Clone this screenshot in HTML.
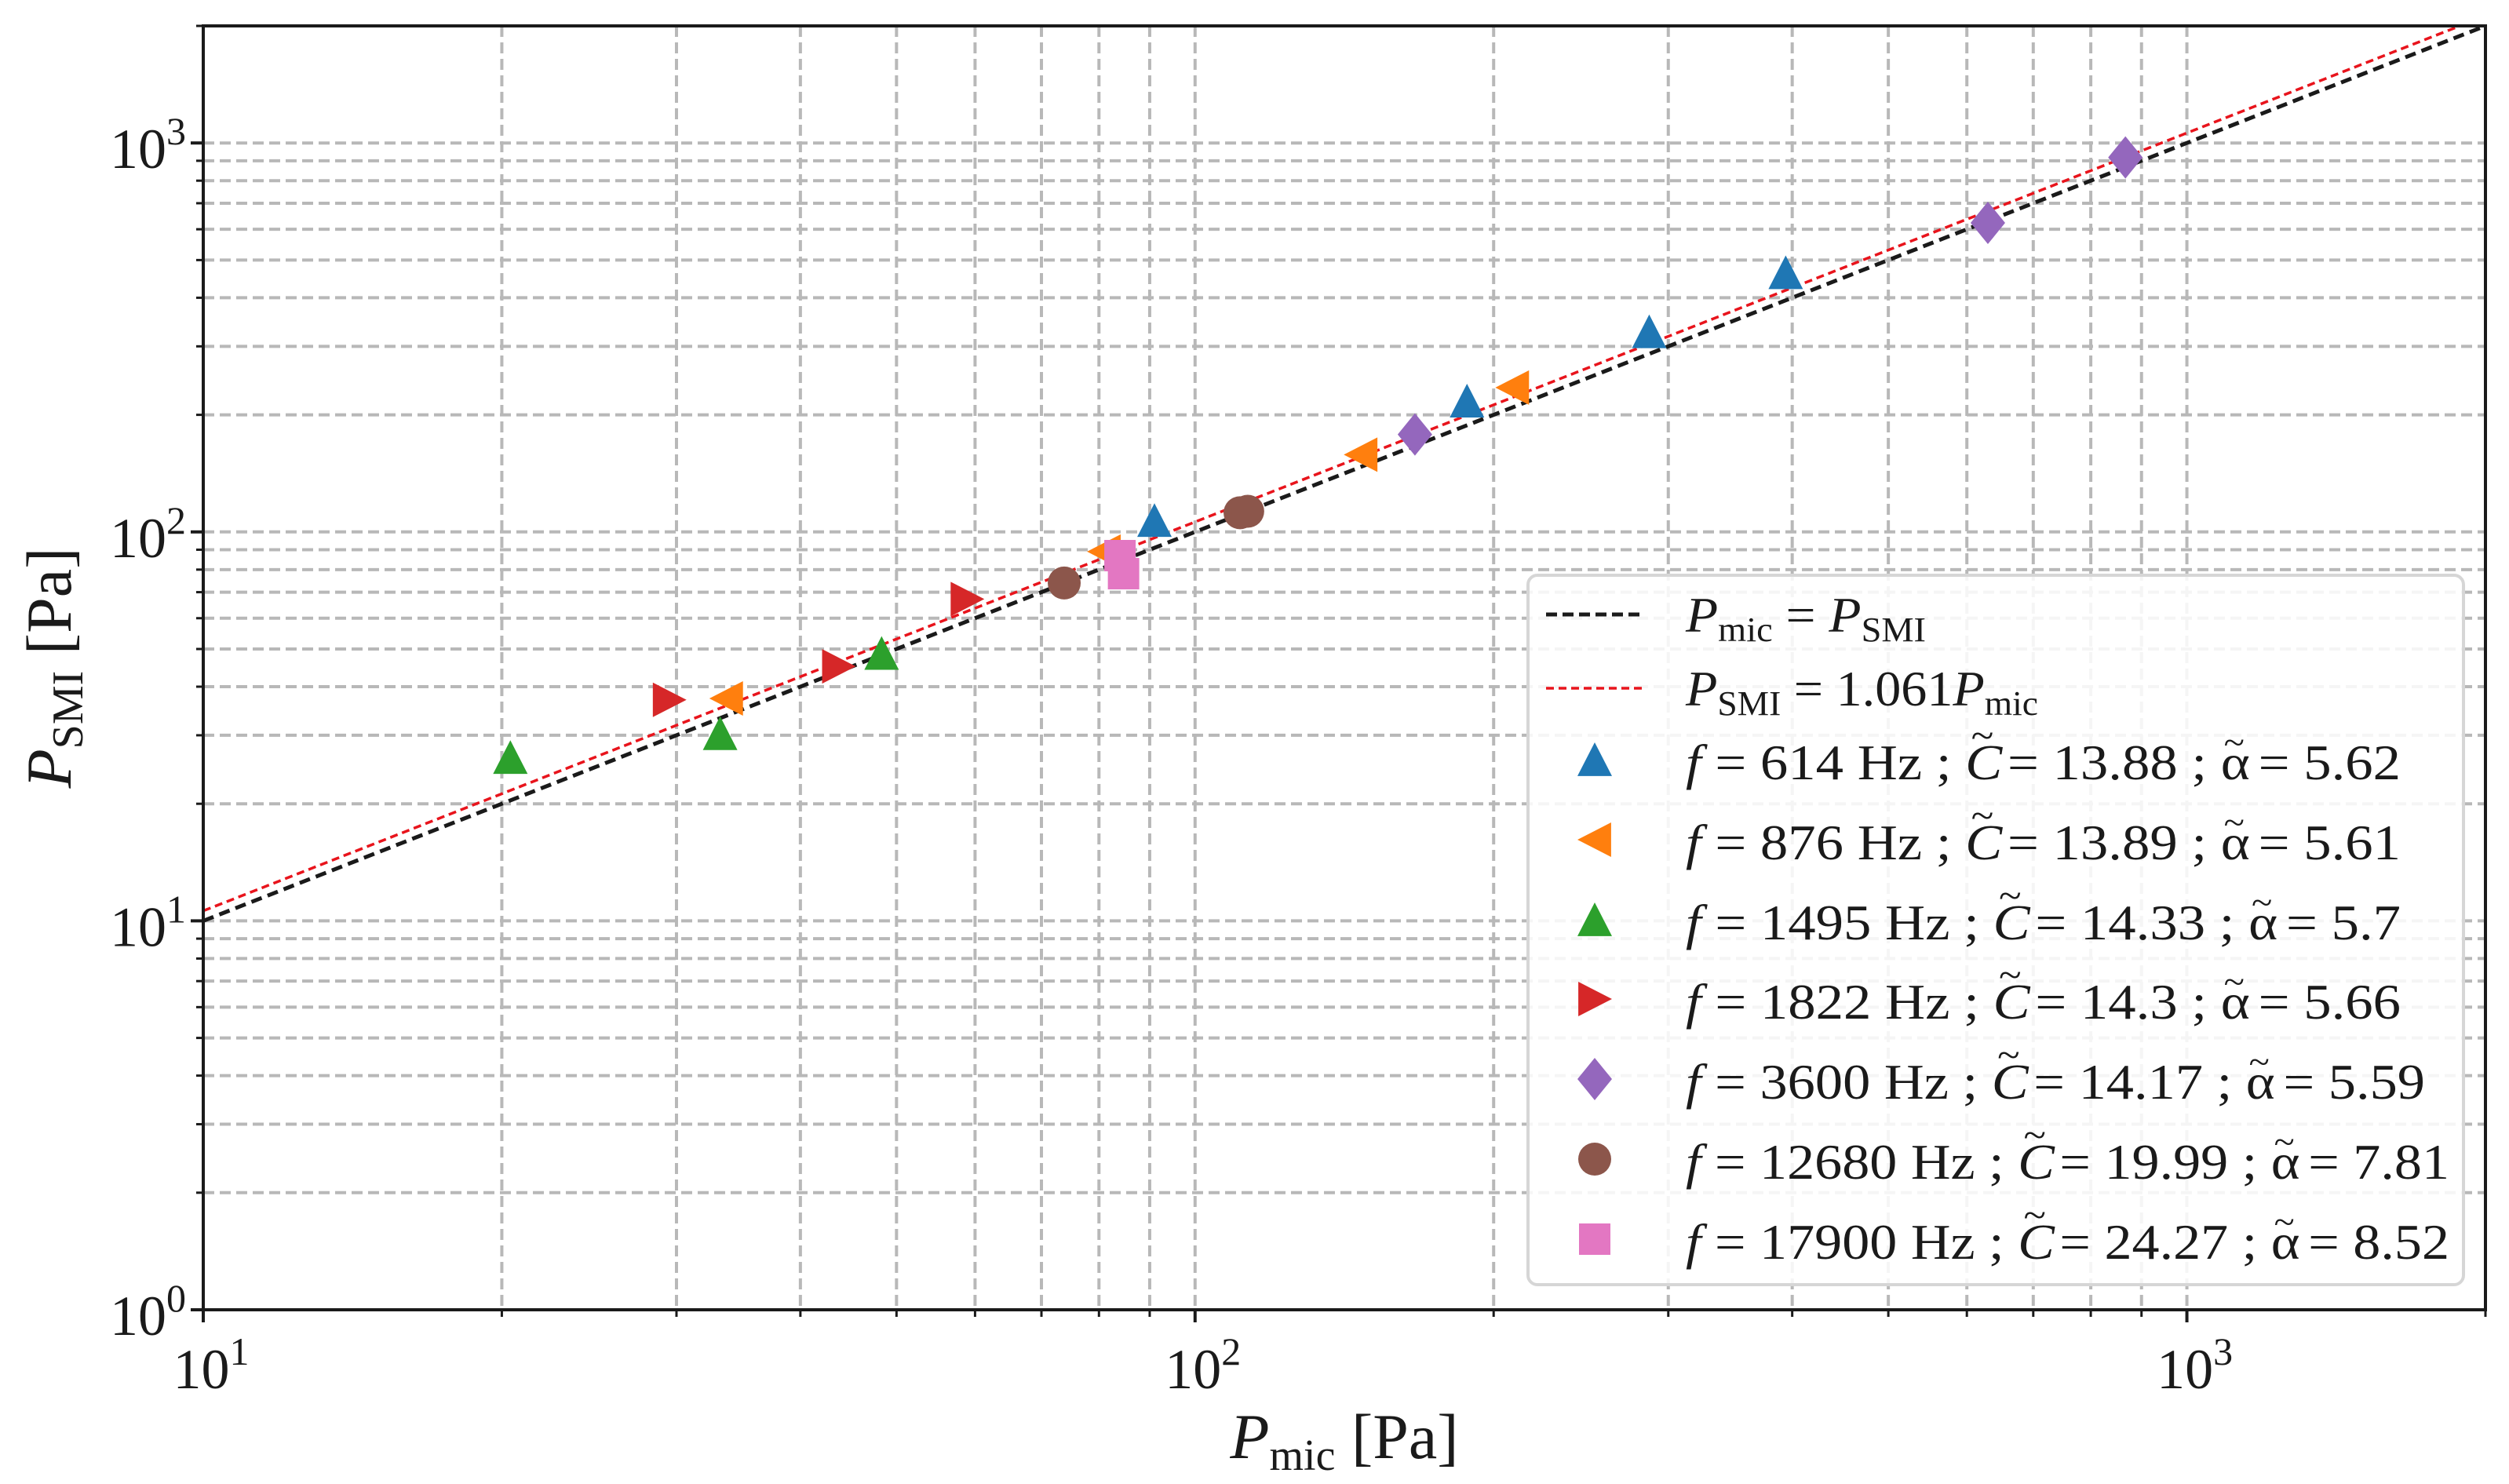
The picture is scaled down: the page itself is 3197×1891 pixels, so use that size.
<!DOCTYPE html>
<html><head><meta charset="utf-8"><style>
html,body{margin:0;padding:0;background:#fff}
svg{display:block}
text{font-family:"Liberation Serif",serif;fill:#1a1a1a}
</style></head><body>
<svg id="chart" width="3197" height="1891" viewBox="0 0 3197 1891" xmlns="http://www.w3.org/2000/svg">
<g id="grid"></g>
<g id="lines"></g>
<g id="marks"></g>
<rect x="259" y="33" width="2908" height="1636" fill="none" stroke="#1a1a1a" stroke-width="4"/>
<g id="ticks"></g>
<text x="1713" y="1858" font-size="82" text-anchor="middle"><tspan font-style="italic">P</tspan><tspan font-size="56" dy="15">mic</tspan><tspan dy="-15"> [Pa]</tspan></text>
<text transform="translate(90,851) rotate(-90)" font-size="82" text-anchor="middle"><tspan font-style="italic">P</tspan><tspan font-size="56" dy="15">SMI</tspan><tspan dy="-15"> [Pa]</tspan></text>
<g id="legend">
<rect x="1947" y="733" width="1192" height="904" rx="12" fill="#fff" fill-opacity="0.85" stroke="#d6d6d6" stroke-width="4"/>
</g>
</svg>
<script>
const xMin=10,xMax=2000,yMin=1,yMax=2000;
const L=259,R=3167,T=33,B=1669;
const xs=v=>L+(Math.log10(v)-Math.log10(xMin))/(Math.log10(xMax)-Math.log10(xMin))*(R-L);
const ys=v=>B-(Math.log10(v)-Math.log10(yMin))/(Math.log10(yMax)-Math.log10(yMin))*(B-T);
const NS="http://www.w3.org/2000/svg";
function mk(tag,attrs,parent){const e=document.createElementNS(NS,tag);for(const k in attrs)e.setAttribute(k,attrs[k]);parent.appendChild(e);return e;}

const seriesNames=["f614","f876","f1495","f1822","f3600","f12680","f17900"];
const seriesColors=["#1f77b4","#ff7f0e","#2ca02c","#d62728","#9467bd","#8c564b","#e377c2"];
const seriesMarkers=["tri-up","tri-left","tri-up","tri-right","diamond","circle","square"];
const xF614=[91,188,287,394], yF614=[107,217,327,464];
const xF876=[33.7,81,147,209], yF876=[37.3,89,158,235];
const xF1495=[20.4,33.2,48.3], yF1495=[26.3,30.3,48.7];
const xF1822=[29.5,43.7,58.9], yF1822=[37,45.1,67.2];
const xF3600=[166.6,630,867], yF3600=[178,623,918];
const xF12680=[73.8,111,113], yF12680=[73.9,112,113];
const xF17900=[84,84.7], yF17900=[86.9,78.1];
const legendLabels=[
 ["614","13.88","5.62"],["876","13.89","5.61"],["1495","14.33","5.7"],["1822","14.3","5.66"],
 ["3600","14.17","5.59"],["12680","19.99","7.81"],["17900","24.27","8.52"]];
const legendWidths=[911,911,911,911,942,973,973];
const slopeFit=1.061;
const xTickVals=[10,100,1000], xTickExp=["1","2","3"];
const yTickVals=[1,10,100,1000], yTickExp=["0","1","2","3"];

const grid=document.getElementById('grid');
for(let d=1;d<=3;d++){for(let m=1;m<=9;m++){const v=m*Math.pow(10,d);if(v>xMax)break;
 const g=mk('line',{x1:xs(v),x2:xs(v),y1:T,y2:B,stroke:'#b8b8b8','stroke-width':4,'stroke-dasharray':'14 7'},grid);
 
 }}
for(let d=0;d<=3;d++){for(let m=1;m<=9;m++){const v=m*Math.pow(10,d);if(v>yMax)break;
 const g=mk('line',{x1:L,x2:R,y1:ys(v),y2:ys(v),stroke:'#b8b8b8','stroke-width':4,'stroke-dasharray':'14 7'},grid);
 
 }}

const ticks=document.getElementById('ticks');
for(let d=1;d<=3;d++){for(let m=1;m<=9;m++){const v=m*Math.pow(10,d);if(v>xMax)break;
 const t=mk('line',{x1:xs(v),x2:xs(v),y1:B,y2:B+(m==1?16:9),stroke:'#1a1a1a','stroke-width':m==1?4:3},ticks);
 
 }}
for(let d=0;d<=3;d++){for(let m=1;m<=9;m++){const v=m*Math.pow(10,d);if(v>yMax)break;
 const t=mk('line',{x1:L,x2:L-(m==1?16:9),y1:ys(v),y2:ys(v),stroke:'#1a1a1a','stroke-width':m==1?4:3},ticks);
 
 }}
xTickVals.forEach((v,i)=>{const t=mk('text',{x:xs(v)+10,y:B+100,'font-size':72,'text-anchor':'middle'},ticks);
 
 
 t.innerHTML='10<tspan font-size="50" dy="-30">'+xTickExp[i]+'</tspan>';});
yTickVals.forEach((v,i)=>{const t=mk('text',{x:L-22,y:ys(v)+32,'font-size':72,'text-anchor':'end'},ticks);
 
 
 t.innerHTML='10<tspan font-size="50" dy="-30">'+yTickExp[i]+'</tspan>';});

const lines=document.getElementById('lines');
const l1=mk('line',{x1:xs(xMin),y1:ys(xMin),x2:xs(xMax),y2:ys(xMax),stroke:'#1a1a1a','stroke-width':5,'stroke-dasharray':'14 8'},lines);


const l2=mk('line',{x1:xs(xMin),y1:ys(xMin*slopeFit),x2:xs(xMax/slopeFit),y2:ys(xMax),stroke:'#e8141c','stroke-width':3.5,'stroke-dasharray':'10 6'},lines);



function marker(type,cx,cy,color,parent){
 const s=22;let e;
 if(type=='tri-up')e=mk('polygon',{points:`${cx},${cy-s} ${cx-s},${cy+s*0.95} ${cx+s},${cy+s*0.95}`},parent);
 else if(type=='tri-left')e=mk('polygon',{points:`${cx-s},${cy} ${cx+s*0.95},${cy-s} ${cx+s*0.95},${cy+s}`},parent);
 else if(type=='tri-right')e=mk('polygon',{points:`${cx+s},${cy} ${cx-s*0.95},${cy-s} ${cx-s*0.95},${cy+s}`},parent);
 else if(type=='diamond')e=mk('polygon',{points:`${cx},${cy-27} ${cx+22},${cy} ${cx},${cy+27} ${cx-22},${cy}`},parent);
 else if(type=='circle')e=mk('circle',{cx:cx,cy:cy,r:21},parent);
 else e=mk('rect',{x:cx-20,y:cy-20,width:40,height:40},parent);
 e.setAttribute('fill',color);
 return e;}

const marks=document.getElementById('marks');
const allX=[xF614,xF876,xF1495,xF1822,xF3600,xF12680,xF17900];
const allY=[yF614,yF876,yF1495,yF1822,yF3600,yF12680,yF17900];
allX.forEach((xa,si)=>{xa.forEach((xv,i)=>{
 const e=marker(seriesMarkers[si],xs(xv),ys(allY[si][i]),seriesColors[si],marks);
 
 });});

const leg=document.getElementById('legend');
const ly=[783,877,971,1073,1175,1276,1378,1480,1582];
const h1=mk('line',{x1:1970,x2:2095,y1:ly[0],y2:ly[0],stroke:'#1a1a1a','stroke-width':5,'stroke-dasharray':'14 7'},leg);


const h2=mk('line',{x1:1970,x2:2095,y1:ly[1],y2:ly[1],stroke:'#e8141c','stroke-width':3.5,'stroke-dasharray':'10 6'},leg);


const t1=mk('text',{x:2148,y:ly[0]+22,'font-size':64,textLength:306,lengthAdjust:'spacingAndGlyphs'},leg);


t1.innerHTML='<tspan font-style="italic">P</tspan><tspan font-size="44" dy="12">mic</tspan><tspan dy="-12"> = </tspan><tspan font-style="italic">P</tspan><tspan font-size="44" dy="12">SMI</tspan>';
const t2=mk('text',{x:2148,y:ly[1]+22,'font-size':64,textLength:449,lengthAdjust:'spacingAndGlyphs'},leg);


t2.innerHTML='<tspan font-style="italic">P</tspan><tspan font-size="44" dy="12">SMI</tspan><tspan dy="-12"> = '+slopeFit+'</tspan><tspan font-style="italic">P</tspan><tspan font-size="44" dy="12">mic</tspan>';
legendLabels.forEach((lab,i)=>{const y=ly[i+2];
 const m=marker(seriesMarkers[i],2032,y-3,seriesColors[i],leg);
 
 
 const t=mk('text',{x:2148,y:y+22,'font-size':64,textLength:legendWidths[i],lengthAdjust:'spacingAndGlyphs'},leg);
 
 
 t.innerHTML='<tspan font-style="italic">f</tspan> = '+lab[0]+' Hz ; <tspan font-style="italic">C</tspan><tspan dx="-36" dy="-40" font-size="48">~</tspan><tspan dy="40"> = '+lab[1]+' ; α</tspan><tspan dx="-30" dy="-32" font-size="44">~</tspan><tspan dy="32"> = '+lab[2]+'</tspan>';});
</script>
</body></html>
